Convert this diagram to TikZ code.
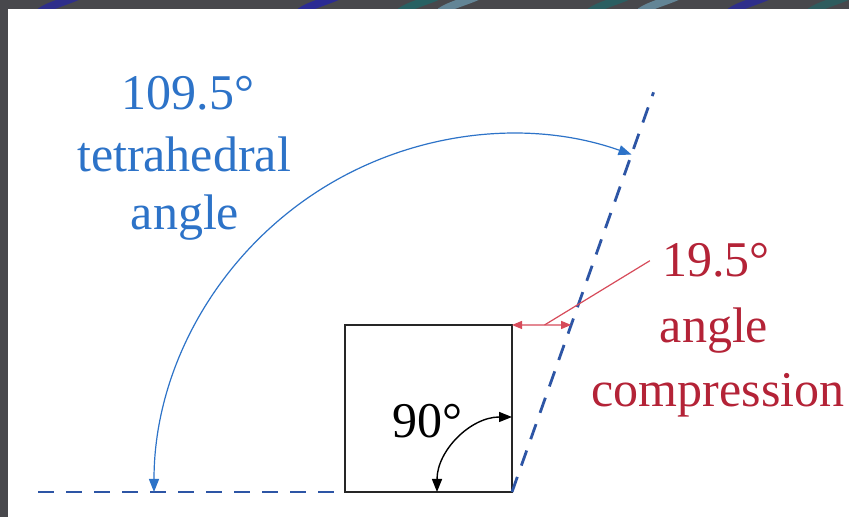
\documentclass[tikz,border=0pt]{standalone}
\usepackage{fontspec}
\setmainfont{Liberation Serif}
\usetikzlibrary{arrows.meta,positioning,calc}
\definecolor{tetblue}{RGB}{45,115,200}
\definecolor{dashblue}{RGB}{45,85,165}
\definecolor{compred}{RGB}{180,35,55}
\definecolor{ptrred}{RGB}{215,75,90}
\definecolor{frame}{RGB}{72,72,76}

\begin{document}
\begin{tikzpicture}[x=0.5pt,y=0.5pt,
        refline/.style={dashblue, line width=1.4pt, dash pattern=on 8pt off 6pt},
        lbl/.style={font=\fontsize{25}{30}\selectfont, inner sep=0pt, anchor=base},
        tips/.style={{Triangle[length=5pt,width=4pt]}-{Triangle[length=5pt,width=4pt]}},
        bigtips/.style={{Triangle[length=6.5pt,width=5pt]}-{Triangle[length=6.5pt,width=5pt]}}]
                % frame and sheet
                \fill[frame] (0,0) rectangle (849,517);
                \begin{scope}
                    \clip (0,508) rectangle (849,517);
                    \foreach \x/\c in {40/blue!35!frame,300/blue!40!frame,400/teal!45!frame,440/cyan!35!frame,590/teal!40!frame,640/cyan!35!frame,730/blue!35!frame,810/teal!35!frame}{
                        \draw[\c, line width=4pt] (\x,505) .. controls (\x+10,512) and (\x+25,515) .. (\x+40,522);
                    }
                \end{scope}
                \fill[white] (8,0) rectangle (849,508);
                % reference lines and square
                \coordinate (vtx) at (512,25);
                \coordinate (far) at (38,25);
                \coordinate (tip) at ($(vtx)+(70.5:424)$);
                \node[draw=black!85, line width=1.3pt, minimum width=83.5pt, minimum height=83.5pt, anchor=south east, outer sep=0pt] (box) at (vtx) {};
                \draw[refline] (far) -- (box.south west);
                \draw[refline] (vtx) -- (tip);
                % angles
                \draw[tetblue, line width=0.6pt, bigtips] ($(vtx)+(180:358)$) arc[start angle=180, end angle=70.5, radius=358];
                \draw[line width=0.7pt, bigtips] ($(vtx)+(180:75)$) arc[start angle=180, end angle=90, radius=75];
                \coordinate (hit) at ($(vtx)+(70.5:177.2)$);
                \draw[ptrred, line width=0.6pt, tips] (box.north east) -- (hit);
                % labels
                \node[lbl, tetblue] (tetval) at (188,407) {109.5°};
                \node[lbl, tetblue] (tetname) at (184,345) {tetrahedral};
                \node[lbl, tetblue] (tetangle) at (185,287) {angle};
                \node[lbl, compred] (compval) at (716,240) {19.5°};
                \node[lbl, compred] (compangle) at (714,174) {angle};
                \node[lbl, compred] (compname) at (718,110) {compression};
                \node[lbl] (rightval) at (427,79) {90°};
                \draw[ptrred, line width=0.6pt] ([xshift=-6pt]compval.west) -- ($(box.north east)!0.55!(hit)$);
            \end{tikzpicture}
\end{document}
